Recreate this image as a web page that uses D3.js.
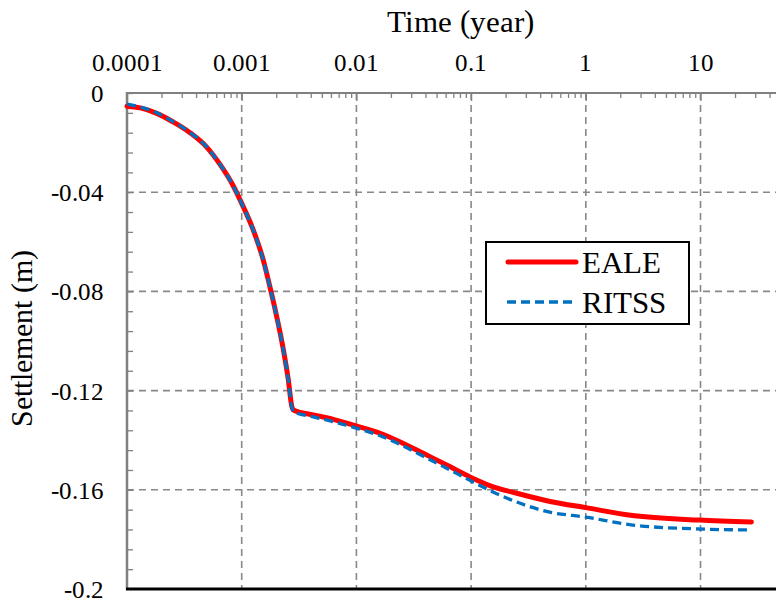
<!DOCTYPE html>
<html><head><meta charset="utf-8">
<script src="https://cdn.jsdelivr.net/npm/d3@7"></script>
<style>
@font-face{font-family:"ChartSerif";src:local("Liberation Serif"),local("LiberationSerif"),local("LiberationSerif-Regular"),local("Times New Roman"),local("Tinos");}
body{margin:0;background:#fff;overflow:hidden;font-family:"Times New Roman"}
svg{display:block}
text{font-family:"Times New Roman"}
</style>
</head><body>
<script>
const xTickValues = [0.0001, 0.001, 0.01, 0.1, 1, 10];
const xTickLabels = ["0.0001", "0.001", "0.01", "0.1", "1", "10"];
const yTickValues = [0, -0.04, -0.08, -0.12, -0.16, -0.2];
const yTickLabels = ["0", "-0.04", "-0.08", "-0.12", "-0.16", "-0.2"];

const ealeTime = [0.0001, 0.00013, 0.000182, 0.000253, 0.000354, 0.000495, 0.000647, 0.000845, 0.001, 0.00126, 0.00154, 0.00176, 0.00202, 0.00231, 0.00255, 0.00273, 0.00282, 0.00421, 0.00629, 0.01007, 0.0161, 0.0257, 0.0383, 0.0612, 0.0977, 0.156, 0.25, 0.5, 1, 2.56, 9.8, 27.8];
const ealeSettle = [-0.0053, -0.0060, -0.0082, -0.0117, -0.0160, -0.0218, -0.0288, -0.0375, -0.0445, -0.0552, -0.0673, -0.0781, -0.0902, -0.1036, -0.1157, -0.1262, -0.1278, -0.1298, -0.1316, -0.1343, -0.1372, -0.1413, -0.1453, -0.1500, -0.1548, -0.1588, -0.1614, -0.1648, -0.1672, -0.1704, -0.1722, -0.1730];
const ritssTime = [0.0001, 0.00013, 0.000182, 0.000253, 0.000354, 0.000495, 0.000647, 0.000845, 0.001, 0.00126, 0.00154, 0.00176, 0.00202, 0.00231, 0.00255, 0.00273, 0.00282, 0.00421, 0.00629, 0.01007, 0.0161, 0.0257, 0.0383, 0.0612, 0.0977, 0.177, 0.484, 1, 2.56, 9.8, 27.8];
const ritssSettle = [-0.0045, -0.0056, -0.0080, -0.0116, -0.0159, -0.0217, -0.0288, -0.0375, -0.0446, -0.0553, -0.0674, -0.0782, -0.0903, -0.1037, -0.1158, -0.1265, -0.1285, -0.1306, -0.1325, -0.1352, -0.1382, -0.1424, -0.1465, -0.1513, -0.1562, -0.1621, -0.1690, -0.1710, -0.1742, -0.1758, -0.1762];
const seriesNames = ["EALE", "RITSS"];

const W = 776, H = 603;
const FONT = '"ChartSerif", "Times New Roman"';
const svg = d3.select("body").append("svg").attr("width", W).attr("height", H)
  .attr("font-family", "Times New Roman");

const x = d3.scaleLog().domain([0.0001, 100]).range([127, 815.2]);
const y = d3.scaleLinear().domain([0, -0.2]).range([93, 589]);

// grid
const grid = svg.append("g").attr("stroke", "#888").attr("stroke-width", 1.6).attr("stroke-dasharray", "7,5").attr("fill", "none");
xTickValues.slice(1).forEach(v => grid.append("line").attr("x1", x(v)).attr("x2", x(v)).attr("y1", 93).attr("y2", 589));
yTickValues.slice(1, -1).forEach(v => grid.append("line").attr("x1", 127).attr("x2", W).attr("y1", y(v)).attr("y2", y(v)));

// top axis minor ticks
const minorX = [];
for (let e = -4; e < 2; e++) for (let m = 2; m <= 9; m++) minorX.push(m * Math.pow(10, e));
const topAxis = d3.axisTop(x).tickValues(minorX).tickSize(-5).tickFormat("");
const gTop = svg.append("g").attr("transform", "translate(0,93)").call(topAxis);
gTop.select(".domain").remove();
gTop.selectAll(".tick line").attr("stroke", "#808080").attr("stroke-width", 1.3);
const topMajor = d3.axisTop(x).tickValues(xTickValues).tickSize(-8).tickFormat("");
const gTop2 = svg.append("g").attr("transform", "translate(0,93)").call(topMajor);
gTop2.select(".domain").remove();
gTop2.selectAll(".tick line").attr("stroke", "#808080").attr("stroke-width", 1.3);
svg.append("line").attr("x1", 127).attr("x2", W).attr("y1", 93).attr("y2", 93).attr("stroke", "#808080").attr("stroke-width", 2.2);

// x tick labels
svg.append("g").selectAll("text").data(xTickValues).join("text")
  .attr("x", d => x(d)).attr("y", 71).attr("text-anchor", "middle")
  .style("font-family", FONT).style("font-size", "25px").attr("fill", "#000")
  .text((d, i) => xTickLabels[i]);

// left axis minor ticks
const minorY = d3.range(0, 26).map(i => -i * 0.008).filter(v => v > -0.2);
const leftAxis = d3.axisLeft(y).tickValues(minorY).tickSize(-6).tickFormat("");
const gLeft = svg.append("g").attr("transform", "translate(127,0)").call(leftAxis);
gLeft.select(".domain").remove();
gLeft.selectAll(".tick line").attr("stroke", "#808080").attr("stroke-width", 1.3);
svg.append("line").attr("x1", 127).attr("x2", 127).attr("y1", 92).attr("y2", 590).attr("stroke", "#808080").attr("stroke-width", 2.5);

// y tick labels
svg.append("g").selectAll("text").data(yTickValues).join("text")
  .attr("x", 104).attr("y", d => y(d) + 9).attr("text-anchor", "end")
  .style("font-family", FONT).style("font-size", "25px").attr("fill", "#000")
  .text((d, i) => yTickLabels[i]);

// bottom axis
svg.append("line").attr("x1", 126).attr("x2", W).attr("y1", 589).attr("y2", 589).attr("stroke", "#000").attr("stroke-width", 3);

// titles
svg.append("text").attr("x", 460).attr("y", 32).attr("text-anchor", "middle")
  .style("font-family", FONT).style("font-size", "31px").text("Time (year)");
svg.append("text").attr("transform", "translate(32,338) rotate(-90)").attr("text-anchor", "middle")
  .style("font-family", FONT).style("font-size", "30px").text("Settlement (m)");

// lines
const line = d3.line().x(d => x(d[0])).y(d => y(d[1])).curve(d3.curveMonotoneX);
const ealeData = ealeTime.map((t, i) => [t, ealeSettle[i]]);
const ritssData = ritssTime.map((t, i) => [t, ritssSettle[i]]);
svg.append("path").attr("d", line(ealeData)).attr("fill", "none").attr("stroke", "#FF0000")
  .attr("stroke-width", 5).attr("stroke-linecap", "round").attr("stroke-linejoin", "round");
svg.append("path").attr("d", line(ritssData)).attr("fill", "none").attr("stroke", "#0070C0")
  .attr("stroke-width", 3.3).attr("stroke-dasharray", "9,5").attr("stroke-linecap", "butt");

// legend
const lg = svg.append("g");
lg.append("rect").attr("x", 486).attr("y", 242).attr("width", 203).attr("height", 82)
  .attr("fill", "#fff").attr("stroke", "#000").attr("stroke-width", 2);
lg.append("line").attr("x1", 508).attr("x2", 576).attr("y1", 262).attr("y2", 262)
  .attr("stroke", "#FF0000").attr("stroke-width", 5).attr("stroke-linecap", "round");
lg.append("line").attr("x1", 507).attr("x2", 577).attr("y1", 302).attr("y2", 302)
  .attr("stroke", "#0070C0").attr("stroke-width", 3.3).attr("stroke-dasharray", "9,5");
lg.append("text").attr("x", 582).attr("y", 273).style("font-family", FONT).style("font-size", "31px").text(seriesNames[0]);
lg.append("text").attr("x", 582).attr("y", 313).style("font-family", FONT).style("font-size", "31px").text(seriesNames[1]);
</script>
</body></html>
